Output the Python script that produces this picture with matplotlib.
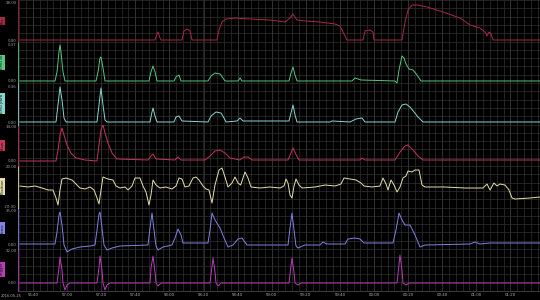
import numpy as np
import matplotlib
matplotlib.use("Agg")
import matplotlib.pyplot as plt
from matplotlib.ticker import FixedLocator

# ── channel data: time (s) and value ────────────────────────────────────
PES_T = [-7.8, 73.2, 74.4, 75, 76.2, 76.8, 89.4, 90.6, 92.4, 94.2, 95.4,
         110.4, 111.6, 113.4, 115.8, 121.2, 130.2, 142.2, 151.2, 154.2, 156,
         158.4, 163.2, 172.2, 181.2, 184.2, 186.6, 188.4, 198, 199.2, 202.2,
         204, 204.6, 221.4, 223.2, 225, 227.4, 231, 236.4, 246, 256.2, 262.2,
         268.2, 271.2, 272.4, 273.6, 274.8, 276, 304.2]
PES_V = [0, 0, 6, 8, 2, 0, 0, 9, 11, 9, 0,
         0, 10, 18, 21, 22, 21, 20, 18, 22, 26,
         20, 19, 18, 16, 14, 6, 0, 0, 9, 10,
         8, 0, 0, 18, 30, 35, 35, 33, 28, 22, 15,
         12, 8, 4, 8, 6, 0, 0]

EMG1_T = [-7.8, 13.2, 14.4, 15.6, 16.2, 16.8, 18, 19.2, 37.8, 39, 40.2, 40.8,
          42, 43.2, 69.6, 70.8, 72, 73.2, 74.4, 84.6, 85.8, 87.6, 88.8, 105,
          106.8, 109.2, 112.2, 114, 115.2, 123, 124.2, 125.4, 153.6, 154.8, 156,
          157.2, 158.4, 191.4, 193.2, 195, 196.8, 217.2, 218.4, 219.6, 221.4,
          222.6, 223.8, 225.6, 228, 230.4, 232.8, 304.2]
EMG1_V = [0, 0, .09, .29, .36, .29, .09, 0, 0, .09, .23, .24,
          .13, 0, 0, .09, .15, .09, 0, 0, .04, .06, 0, 0,
          .05, .08, .07, .03, 0, 0, .03, 0, 0, .08, .14,
          .06, 0, 0, .03, .02, .01, 0, -.02, .11, .25,
          .23, .17, .12, .11, .06, 0, 0]

EMG2_T = [-7.8, 13.8, 15, 16.2, 17.4, 18.6, 19.8, 38.4, 39.6, 40.8, 42, 43.2,
          44.4, 70.2, 71.4, 72, 73.2, 74.4, 84.6, 85.8, 87.6, 89.4, 105, 106.8,
          109.8, 112.8, 114.6, 115.8, 122.4, 124.2, 126, 153.6, 154.8, 156,
          157.2, 158.4, 178.2, 179.4, 190.2, 193.8, 197.4, 199.2, 217.2, 219,
          221.4, 223.8, 226.2, 228.6, 231, 234, 304.2]
EMG2_V = [0, 0, .17, .35, .22, .04, 0, 0, .17, .34, .17, .02,
          0, 0, .10, .14, .06, 0, 0, .05, .06, .01, 0, .06,
          .10, .09, .04, 0, .01, .04, .01, .01, .09, .17,
          .07, 0, 0, .01, 0, .03, .04, 0, 0, .10,
          .17, .18, .15, .10, .05, 0, 0]

FLOW_T = [-7.8, 13.8, 15, 16.2, 17.4, 18.6, 20.4, 22.8, 25.8, 31.2, 38.4,
          39.6, 40.8, 42, 43.2, 45, 47.4, 50.4, 69, 70.8, 72, 73.8, 85.2, 87,
          88.8, 103.2, 106.2, 109.2, 112.2, 115.2, 118.2, 124.2, 126.6, 129,
          131.4, 153, 154.8, 156, 157.6, 159.6, 196.2, 197.4, 199.2, 217.2,
          220.2, 223.2, 225, 228, 231, 234, 304.2]
FLOW_V = [0, 0, 11, 26, 33, 26, 16, 8, 3, 1, 0,
          16, 31, 36, 28, 18, 8, 2, 1, 5, 7, 2, 1, 4,
          1, 1, 5, 10, 11, 8, 3, 1, 4, 4,
          1, 1, 8, 13, 7, 1, 1, 3, 1, 1,
          9, 15, 16, 11, 5, 1, 1]

POS_T = [-7.8, -3, 1.2, 5.4, 9, 12, 13.8, 15, 16.2, 17.4, 19.8, 23.4, 25.8,
         28.2, 31.2, 34.2, 36.6, 38.4, 39.6, 40.8, 42, 45, 48, 49.8, 52.2,
         55.2, 57, 59.4, 61.2, 64.2, 66, 67.8, 69.6, 70.8, 72, 73.8, 76.2,
         79.8, 83.4, 85.8, 87.6, 89.4, 91.2, 93.6, 96, 97.8, 99.6, 102, 103.8,
         105.6, 107.4, 109.2, 111.6, 113.4, 115.2, 117, 119.4, 121.2, 123,
         124.6, 127.2, 129, 130.8, 136.2, 142.2, 148.2, 150.6, 151.8, 153,
         154.2, 155.4, 156.6, 157.8, 159.6, 161.4, 169.2, 175.2, 181.2, 184.8,
         186.6, 190.2, 193.8, 196.8, 198.6, 203.4, 208.2, 210, 211.8, 213,
         214.8, 216.6, 218.4, 220.2, 222, 223.8, 225, 227.4, 229.2, 231.6,
         233.4, 235.2, 247.2, 259.2, 270, 272.4, 274.2, 276.6, 278.4, 280.2,
         283.2, 285.6, 287.4, 289.2, 298.2, 304.2]
POS_V = [1, 0, 1, -1, -3, -3, -11, -18, -3, 8, 9, 7, 3,
         -1, -2, 0, -3, -11, -17, -3, 10, 8, 7, 1, -1,
         0, -3, 1, 9, 9, 1, -5, -18, -8, 7, 2, -1,
         0, -2, 1, 9, 8, 0, 1, 9, 10, 7, 1, -2,
         -3, -16, 2, 17, 19, 10, 0, 4, 10, 4,
         2, 15, 9, 0, -1, 0, -1, 1, 8, 4,
         -8, -11, 1, 8, 2, -1, 0, 2, 1, 3,
         9, 8, 7, 4, 1, 0, 1, 9, 3, -3,
         7, 2, -5, 0, 9, 11, 16, 15, 17, 17,
         2, 0, 0, -1, -1, 3, -3, 4, 1, 3,
         2, -3, -11, -12, -11, -10]

FORCE_T = [-7.8, 13.2, 14.4, 15.6, 16.2, 17.4, 18.6, 20.4, 23.4, 28.2, 34.2,
           37.2, 38.4, 39.6, 40.2, 41.4, 42.6, 44.4, 47.4, 52.2, 69, 70.2,
           71.4, 72.6, 73.8, 75, 78, 83.4, 85.2, 87, 88.8, 90, 105, 106.2,
           107.4, 109.2, 112.2, 114.6, 117, 120, 123, 125.4, 128.4, 153, 154.2,
           155.4, 156.6, 157.8, 159, 163.2, 172.2, 174, 176.4, 187.2, 189,
           193.2, 196.2, 198.6, 216, 217.8, 219.6, 221.4, 223.2, 226.2, 229.2,
           232.2, 235.2, 262.2, 265.2, 268.2, 274.2, 304.2]
FORCE_V = [1, 1, 13, 30, 33, 20, 0, -7, -4, -2, -1,
           0, 15, 31, 33, 17, 0, -5, -3, -1, 0, 17,
           32, 15, -1, -5, -2, 0, 7, 16, 10, 2, 2, 15,
           32, 25, 17, 7, -2, 0, 6, 7, 0, 0, 17,
           32, 15, -1, -3, 0, 0, 3, 1, 1, 6,
           7, 6, 2, 2, 15, 32, 25, 20, 20, 10,
           -2, 0, 1, 3, 1, 2, 2]

TRIG_T = [-7.8, 14.4, 15.6, 16.2, 17.4, 18, 19.2, 20.4, 22.2, 38.4, 39.6,
          40.2, 41.4, 42, 43.2, 44.4, 46.2, 70.2, 70.8, 72, 73.2, 73.8, 75,
          76.8, 106.2, 107.4, 108, 109.2, 109.8, 111, 112.8, 153.6, 154.8,
          155.4, 156.6, 157.2, 159, 160.8, 218.4, 219.6, 220.2, 221.4, 222,
          223.8, 225.6, 304.2]
TRIG_V = [0, 0, 15, 26, 13, 0, -7, -2, 0, 0, 15,
          27, 13, 0, -7, -2, 0, 0, 15, 27, 11, 0, -3,
          0, 0, 17, 25, 11, 0, -3, 0, 0, 17,
          25, 11, 0, -2, 0, 0, 18, 28, 13, 0,
          -2, 0, 0]

NAMES  = ["Pes", "EMG di", "EMG para", "Flow", "Position", "Force", "Trigger"]
COLORS = ["#a82a44", "#55c87c", "#86d8cf", "#c8345c", "#e6e0a6", "#8282e4",
          "#bb3cbb"]
YLIMS  = [(-1.5, 40), (-0.02, 0.395), (-0.025, 0.39), (-5, 36.5),
          (-20.5, 21), (-4, 37.5), (-7.5, 34)]
YLABS  = [(0, 38), (0, 0.37), (0, 0.36), (0, 34), (-20, 20), (0, 35), (0, 32)]
YFMT   = ["{:.2f}"] * 7

TICK_T      = [20.46 * k for k in range(15)]
TICK_LABELS = ["56:40", "57:00", "57:20", "57:40", "58:00", "58:20", "58:40",
               "59:00", "59:20", "59:40", "00:00", "00:20", "00:40", "01:00",
               "01:20"]

series = [(PES_T, PES_V), (EMG1_T, EMG1_V), (EMG2_T, EMG2_V),
          (FLOW_T, FLOW_V), (POS_T, POS_V), (FORCE_T, FORCE_V),
          (TRIG_T, TRIG_V)]

W, H = 540, 300
fig = plt.figure(figsize=(W / 100, H / 100), dpi=100, facecolor="black")

left_px, row_h = 18, 41.5
axes = []
for i, ((t, v), name, col, ylim, ylab, fmt) in enumerate(
        zip(series, NAMES, COLORS, YLIMS, YLABS, YFMT)):
    y0 = i * row_h
    ax = fig.add_axes([left_px / W, 1 - (y0 + row_h) / H,
                       (W - left_px) / W, row_h / H], facecolor="black")
    ax.set_zorder(20 - i)          # upper strips draw over the ones below
    ax.plot(t, v, color=col, lw=0.7, clip_on=False, zorder=3)
    ax.set_xlim(-9, 304.2)
    ax.set_ylim(*ylim)

    ax.xaxis.set_major_locator(FixedLocator(TICK_T))
    ax.xaxis.set_minor_locator(FixedLocator(np.arange(-8.2, 304, 4.092)))
    ax.yaxis.set_minor_locator(FixedLocator(np.linspace(ylim[0], ylim[1], 6)))
    ax.set_yticks(list(ylab))
    ax.set_yticklabels([fmt.format(x) for x in ylab])
    ax.grid(which="minor", color="#353535", lw=0.45)
    ax.grid(which="major", axis="x", color="#3c3c3c", lw=0.5)
    ax.tick_params(which="both", length=0)
    ax.tick_params(axis="y", labelsize=2.8, labelcolor="#9a9a9a", pad=1)

    for s in ("top", "right", "bottom"):
        ax.spines[s].set_visible(False)
    ax.spines["left"].set_color(col)
    ax.spines["left"].set_linewidth(0.6)

    if i < len(series) - 1:
        ax.tick_params(axis="x", labelbottom=False)
    else:
        ax.set_xticklabels(TICK_LABELS)
        ax.tick_params(axis="x", labelsize=2.8, labelcolor="#b0b0b0", pad=2)
        ax.spines["bottom"].set_visible(True)
        ax.spines["bottom"].set_color("#555555")
        ax.spines["bottom"].set_linewidth(0.5)

    # coloured channel tag down the left edge
    fig.text(2.5 / W, 1 - (y0 + row_h / 2) / H, name, rotation=90,
             fontsize=2.8, color="#101010", ha="center", va="center",
             bbox=dict(boxstyle="square,pad=0.2", fc=col, ec="none"))
    axes.append(ax)

fig.text(1 / W, 1 - 296 / H, "2016-05-25", fontsize=2.6, color="#b0b0b0",
         ha="left", va="center")

fig.savefig("out.png", dpi=100, facecolor="black")
